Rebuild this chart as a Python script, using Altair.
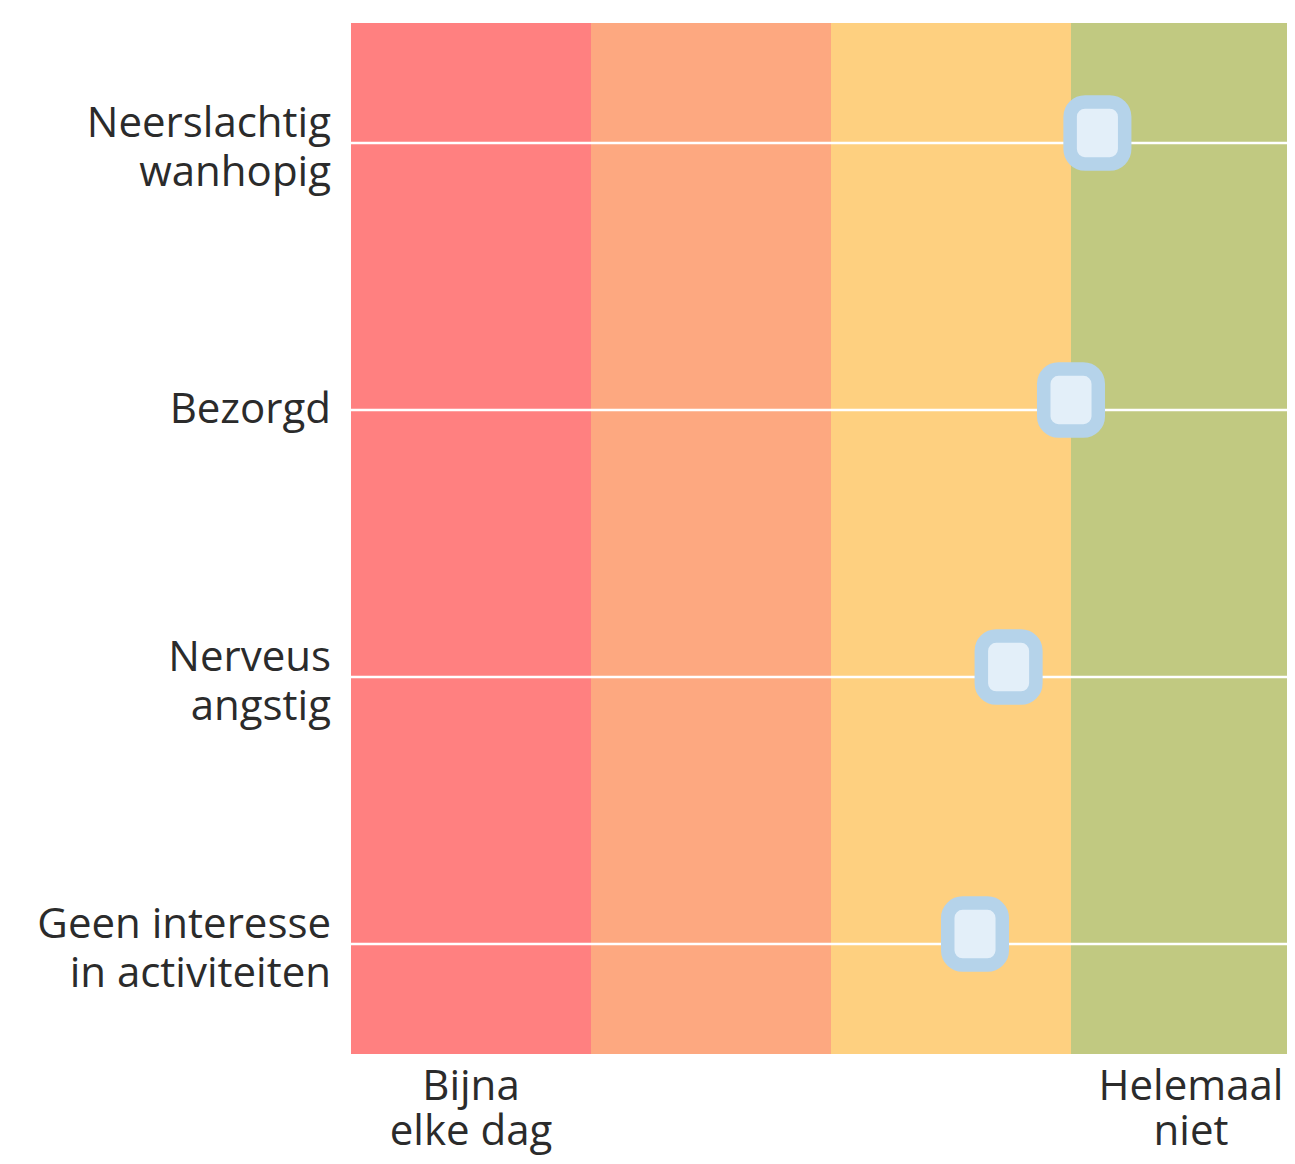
import altair as alt
import pandas as pd

# Bands (answer scale, 4 categories)
band_start = [0, 1, 2, 3]
band_end = [1, 2, 3, 4]
band_color = ["#FF8080", "#FDA880", "#FED080", "#C1C981"]

# Items (rows) and scores
items = ["Neerslachtig\nwanhopig", "Bezorgd", "Nerveus\nangstig", "Geen interesse\nin activiteiten"]
row = [0, 1, 2, 3]
score = [3.11, 3.0, 2.74, 2.6]

# x-axis end labels
xlab_text = ["Bijna\nelke dag", "Helemaal\nniet"]
xlab_pos = [0.5, 3.5]

W, H = 936, 1031
xs = alt.Scale(domain=[0, 936 / 240], nice=False, zero=False)
ys = alt.Scale(domain=[-0.449, 3.412], nice=False, zero=False, reverse=True)

bands = pd.DataFrame({"s": band_start, "e": band_end, "c": band_color})
rows = pd.DataFrame({"item": items, "row": row, "score": score})
xl = pd.DataFrame({"t": xlab_text, "p": xlab_pos})

band_layer = alt.Chart(bands).mark_rect(clip=True).encode(
    x=alt.X("s:Q", scale=xs, axis=None),
    x2="e:Q",
    color=alt.Color("c:N", scale=None, legend=None),
)

rule_layer = alt.Chart(rows).mark_rule(color="white", strokeWidth=2.5).encode(
    y=alt.Y("row:Q", scale=ys, axis=None)
)

shape = ("M -0.40,-1.32 L 0.40,-1.32 A 0.48,0.48 0 0 1 0.88,-0.84 L 0.88,0.20 "
         "A 0.48,0.48 0 0 1 0.40,0.68 L -0.40,0.68 A 0.48,0.48 0 0 1 -0.88,0.20 "
         "L -0.88,-0.84 A 0.48,0.48 0 0 1 -0.40,-1.32 Z")

marker_layer = alt.Chart(rows).mark_point(
    shape=shape, size=3844, filled=True, fill="#E3EFF9", stroke="#B5D3EA",
    strokeWidth=13.5, opacity=1
).encode(
    x=alt.X("score:Q", scale=xs, axis=None),
    y=alt.Y("row:Q", scale=ys, axis=None),
)

text_style = dict(align="right", baseline="middle", lineBreak="\n", font="Open Sans",
                  fontSize=42, lineHeight=49, color="#2b2b2b")

ylab_multi = alt.Chart(rows).transform_filter(
    "indexof(datum.item, '\\n') >= 0"
).mark_text(dy=-19, **text_style).encode(
    y=alt.Y("row:Q", scale=ys, axis=None),
    x=alt.value(-20),
    text="item:N",
)

ylab_single = alt.Chart(rows).transform_filter(
    "indexof(datum.item, '\\n') < 0"
).mark_text(**text_style).encode(
    y=alt.Y("row:Q", scale=ys, axis=None),
    x=alt.value(-20),
    text="item:N",
)

xlab_layer = alt.Chart(xl).mark_text(
    align="center", baseline="top", lineBreak="\n", font="Open Sans",
    fontSize=42, lineHeight=45, color="#2b2b2b"
).encode(
    x=alt.X("p:Q", scale=xs, axis=None),
    y=alt.value(H + 13),
    text="t:N",
)

chart = alt.layer(band_layer, rule_layer, marker_layer, ylab_multi, ylab_single, xlab_layer).properties(
    width=W, height=H,
    autosize=alt.AutoSizeParams(type="none"),
    padding={"left": 343, "top": 15, "right": 0, "bottom": 102},
).configure_view(stroke=None)

chart.save("out.html", embed_options={"renderer": "svg", "actions": False})
